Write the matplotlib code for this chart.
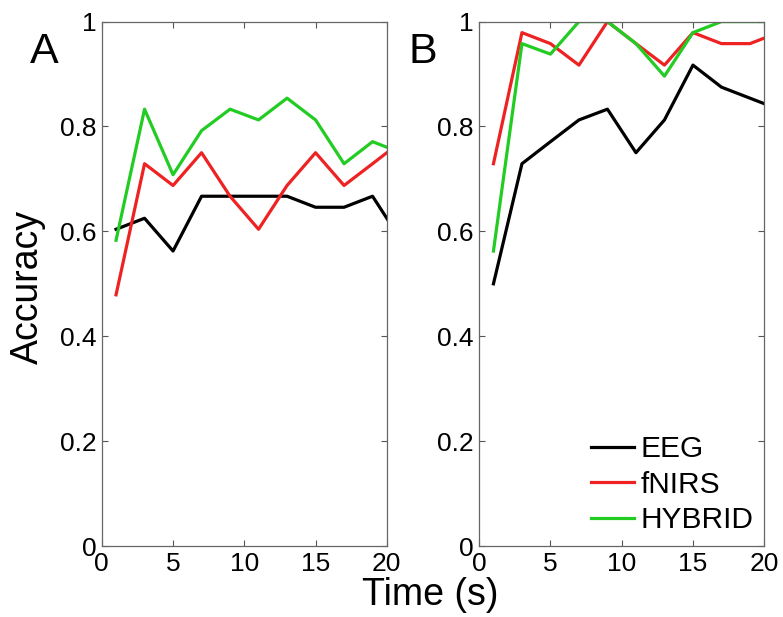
import matplotlib
matplotlib.use("Agg")
import matplotlib.pyplot as plt

# === DATA ===
time_s = [1, 3, 5, 7, 9, 11, 13, 15, 17, 19, 21]

eeg_a = [0.604, 0.625, 0.5625, 0.667, 0.667, 0.667, 0.667, 0.646, 0.646, 0.667, 0.583]
fnirs_a = [0.479, 0.729, 0.6875, 0.75, 0.667, 0.604, 0.6875, 0.75, 0.6875, 0.729, 0.771]
hybrid_a = [0.583, 0.833, 0.708, 0.792, 0.833, 0.8125, 0.854, 0.8125, 0.729, 0.771, 0.75]

eeg_b = [0.50, 0.729, 0.771, 0.8125, 0.833, 0.75, 0.8125, 0.917, 0.875, 0.854, 0.833]
fnirs_b = [0.729, 0.979, 0.958, 0.917, 1.0, 0.958, 0.917, 0.979, 0.958, 0.958, 0.979]
hybrid_b = [0.5625, 0.958, 0.938, 1.0, 1.0, 0.958, 0.896, 0.979, 1.0, 1.0, 1.0]

series_names = ["EEG", "fNIRS", "HYBRID"]
series_colors = ["black", "#ee2222", "#22cc22"]

x_ticks = [0, 5, 10, 15, 20]
y_ticks = [0, 0.2, 0.4, 0.6, 0.8, 1.0]
y_ticklabels = ["0", "0.2", "0.4", "0.6", "0.8", "1"]

plt.rcParams['font.family'] = ['Liberation Sans', 'DejaVu Sans']

fig = plt.figure(figsize=(7.83, 6.17), dpi=100)
ax1 = fig.add_axes([0.130, 0.115, 0.364, 0.850])
ax2 = fig.add_axes([0.612, 0.115, 0.364, 0.850])

panels = [(ax1, [eeg_a, fnirs_a, hybrid_a], "A", 0.056),
          (ax2, [eeg_b, fnirs_b, hybrid_b], "B", 0.540)]

for ax, data, letter, lx in panels:
    for vals, name, col in zip(data, series_names, series_colors):
        ax.plot(time_s, vals, color=col, lw=2.3, label=name)
    ax.set_xlim(0, 20)
    ax.set_ylim(0, 1)
    ax.set_xticks(x_ticks)
    ax.set_yticks(y_ticks)
    ax.set_yticklabels(y_ticklabels)
    ax.tick_params(direction='in', length=4, width=0.8, color='#555555',
                   top=True, right=True, labelsize=19, pad=4)
    for sp in ax.spines.values():
        sp.set_color('#666666')
        sp.set_linewidth(0.9)
    fig.text(lx, 0.915, letter, fontsize=31, ha='center', va='center')

# legend sits low in panel B, no frame
ax2.legend(loc='lower left', frameon=False, fontsize=21.5, handlelength=1.45,
           handletextpad=0.23, labelspacing=0.25, borderpad=0,
           bbox_to_anchor=(0.339, -0.006))

fig.text(0.036, 0.535, "Accuracy", fontsize=27, rotation=90, ha='center', va='center')
fig.text(0.550, 0.035, "Time (s)", fontsize=27, ha='center', va='center')

fig.savefig("out.png", dpi=100)
